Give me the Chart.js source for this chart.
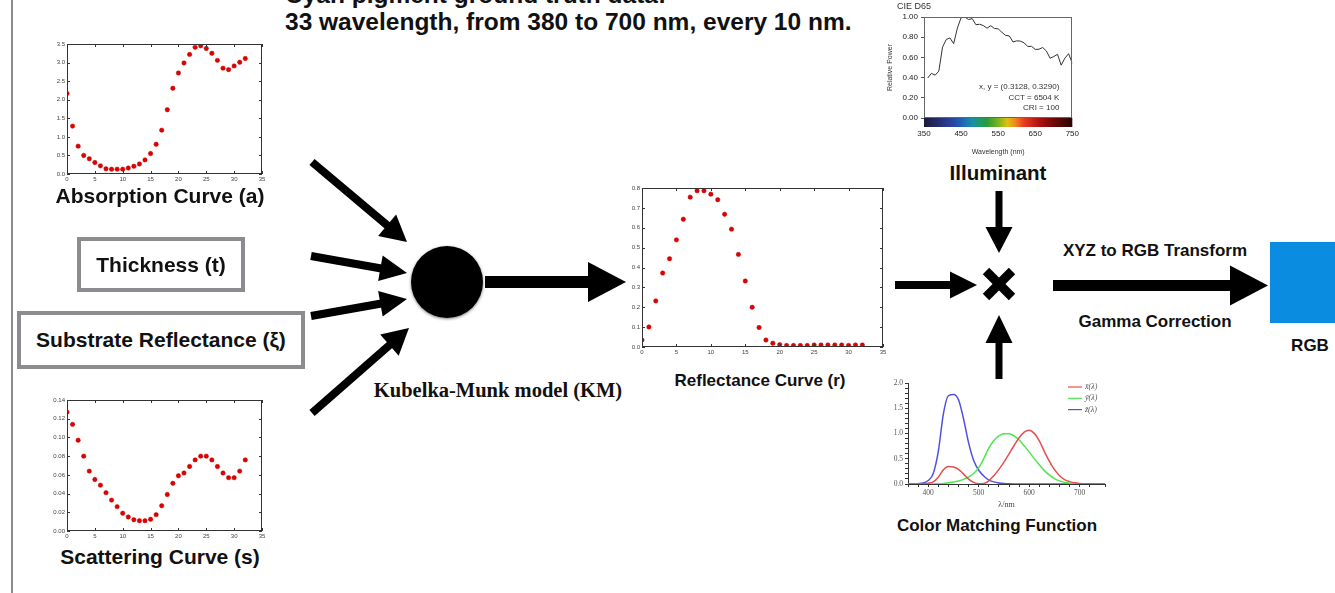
<!DOCTYPE html>
<html>
<head>
<meta charset="utf-8">
<script src="https://cdn.jsdelivr.net/npm/chart.js@4.4.0/dist/chart.umd.min.js"></script>
<style>
    body { margin: 0; width: 1335px; height: 593px; overflow: hidden; background: #fff; position: relative; font-family: "Liberation Sans", Arial, sans-serif; color: #111; }
    .chart { position: absolute; }
    .t { position: absolute; white-space: nowrap; font-weight: bold; line-height: 1; transform: translate(-50%, -50%); }
    .tl { position: absolute; white-space: nowrap; font-weight: bold; line-height: 1; transform: translate(0, -50%); }
    .box { position: absolute; box-sizing: border-box; border: 4px solid #8a8c8f; display: flex; align-items: center; justify-content: center; font-weight: bold; font-size: 21px; }
    svg { position: absolute; left: 0; top: 0; }
</style>
</head>
<body>

<div style="position:absolute;left:11px;top:0;width:2px;height:593px;background:#8c8c8c"></div>

<div class="tl" style="left:285px;top:-5px;font-size:24.5px">Cyan pigment ground truth data:</div>
<div class="tl" style="left:285px;top:22px;font-size:24.5px">33 wavelength, from 380 to 700 nm, every 10 nm.</div>

<div class="chart" style="left:47px;top:38px;width:222px;height:146px"><canvas id="absorptionChart"></canvas></div>
<div class="t" style="left:160px;top:195px;font-size:21px">Absorption Curve (a)</div>

<div class="box" style="left:77px;top:237px;width:168px;height:55px">Thickness (t)</div>
<div class="box" style="left:17px;top:311px;width:288px;height:58px">Substrate Reflectance (ξ)</div>

<div class="chart" style="left:47px;top:394px;width:222px;height:147px"><canvas id="scatteringChart"></canvas></div>
<div class="t" style="left:160px;top:556px;font-size:21px">Scattering Curve (s)</div>

<div class="t" style="left:498px;top:390px;font-size:20.5px;font-family:'Liberation Serif','Times New Roman',serif">Kubelka-Munk model (KM)</div>

<div class="chart" style="left:620px;top:182px;width:270px;height:175px"><canvas id="reflectanceChart"></canvas></div>
<div class="t" style="left:760px;top:380px;font-size:17px">Reflectance Curve (r)</div>

<div class="chart" style="left:880px;top:0px;width:210px;height:156px"><canvas id="d65Chart"></canvas></div>
<div class="t" style="left:998px;top:173px;font-size:20.5px">Illuminant</div>

<div class="chart" style="left:880px;top:376px;width:232px;height:134px"><canvas id="cmfChart"></canvas></div>
<div class="t" style="left:997px;top:525px;font-size:17px">Color Matching Function</div>

<div class="t" style="left:1155px;top:250px;font-size:17px">XYZ to RGB Transform</div>
<div class="t" style="left:1155px;top:321px;font-size:17px">Gamma Correction</div>
<div style="position:absolute;left:1270px;top:242px;width:65px;height:81px;background:#0a8ce0"></div>
<div class="t" style="left:1310px;top:345px;font-size:17px">RGB</div>

<svg id="diagram" width="1335" height="593"></svg>

<script>
// Sample index (33 wavelengths, 380..700 nm)
const sampleIndex = [0, 1, 2, 3, 4, 5, 6, 7, 8, 9, 10, 11, 12, 13, 14, 15, 16, 17, 18, 19, 20, 21, 22, 23, 24, 25, 26, 27, 28, 29, 30, 31, 32];

const absorption = [2.17, 1.29, 0.75, 0.50, 0.41, 0.31, 0.22, 0.14, 0.13, 0.13, 0.13, 0.16, 0.21, 0.27, 0.38, 0.55, 0.80,
    1.18, 1.73, 2.31, 2.72, 2.99, 3.22, 3.41, 3.45, 3.38, 3.25, 3.06, 2.85, 2.81, 2.91, 3.01, 3.11];

const scattering = [0.127, 0.114, 0.097, 0.080, 0.064, 0.055, 0.049, 0.041, 0.033, 0.026, 0.019, 0.015, 0.012, 0.011, 0.011, 0.0125, 0.0175,
    0.027, 0.039, 0.051, 0.059, 0.062, 0.069, 0.076, 0.080, 0.080, 0.076, 0.069, 0.062, 0.057, 0.057, 0.064, 0.076];

const reflectance = [0.035, 0.101, 0.232, 0.372, 0.444, 0.539, 0.643, 0.754, 0.786, 0.786, 0.769, 0.741, 0.668, 0.593, 0.466, 0.332, 0.200,
    0.098, 0.035, 0.019, 0.012, 0.008, 0.008, 0.008, 0.008, 0.010, 0.010, 0.010, 0.010, 0.010, 0.008, 0.010, 0.010];

// CIE D65 relative power
const d65Wavelengths = [360, 370, 380, 390, 400, 410, 420, 430, 440, 450, 460, 470, 480, 490, 500, 510, 520, 530, 540, 550,
    560, 570, 580, 590, 600, 610, 620, 630, 640, 650, 660, 670, 680, 690, 700, 710, 720, 730, 740, 750];
const d65Power = [0.396, 0.442, 0.424, 0.464, 0.702, 0.777, 0.793, 0.736, 0.890, 0.993, 1.000, 0.975, 0.984, 0.924, 0.928, 0.915, 0.889, 0.914, 0.886, 0.883,
    0.849, 0.818, 0.813, 0.753, 0.764, 0.761, 0.744, 0.707, 0.710, 0.679, 0.681, 0.698, 0.664, 0.592, 0.608, 0.631, 0.523, 0.593, 0.637, 0.540];
const d65Notes = ["x, y = (0.3128, 0.3290)", "CCT = 6504 K", "CRI = 100"];

// Spectrum band under the D65 plot
const bandWavelengths = [350, 380, 420, 450, 480, 500, 520, 550, 575, 595, 620, 660, 700, 750];
const bandColors = ["#1b1b3a", "#232862", "#2a3d9a", "#1f5fb8", "#1a8fa8", "#1e9a6a", "#2a9a3a", "#7ab520", "#e0c010", "#f08a20", "#e83a20", "#b01010", "#700808", "#2a0505"];

// CIE 1931 colour matching functions
const cmfWavelengths = [360, 370, 380, 390, 400, 410, 420, 430, 440, 450, 460, 470, 480, 490, 500, 510, 520, 530, 540, 550,
    560, 570, 580, 590, 600, 610, 620, 630, 640, 650, 660, 670, 680, 690, 700, 710, 720, 730, 740, 750];
const cmfX = [0.0001, 0.0004, 0.0014, 0.0042, 0.0143, 0.0435, 0.1344, 0.2839, 0.3483, 0.3362, 0.2908, 0.1954, 0.0956, 0.0320, 0.0049, 0.0093, 0.0633, 0.1655, 0.2904, 0.4334,
    0.5945, 0.7621, 0.9163, 1.0263, 1.0622, 1.0026, 0.8544, 0.6424, 0.4479, 0.2835, 0.1649, 0.0874, 0.0468, 0.0227, 0.0114, 0.0058, 0.0029, 0.0014, 0.0007, 0.0003];
const cmfY = [0.0000, 0.0000, 0.0000, 0.0001, 0.0004, 0.0012, 0.0040, 0.0116, 0.0230, 0.0380, 0.0600, 0.0910, 0.1390, 0.2080, 0.3230, 0.5030, 0.7100, 0.8620, 0.9540, 0.9950,
    0.9950, 0.9520, 0.8700, 0.7570, 0.6310, 0.5030, 0.3810, 0.2650, 0.1750, 0.1070, 0.0610, 0.0320, 0.0170, 0.0082, 0.0041, 0.0021, 0.0010, 0.0005, 0.0002, 0.0001];
const cmfZ = [0.0006, 0.0019, 0.0065, 0.0201, 0.0679, 0.2074, 0.6456, 1.3856, 1.7471, 1.7721, 1.6692, 1.2876, 0.8130, 0.4652, 0.2720, 0.1582, 0.0783, 0.0422, 0.0203, 0.0088,
    0.0039, 0.0021, 0.0017, 0.0011, 0.0008, 0.0003, 0.0002, 0.0001, 0.0000, 0.0000, 0.0000, 0.0000, 0.0000, 0.0000, 0.0000, 0.0000, 0.0000, 0.0000, 0.0000, 0.0000];
const cmfLabels = ["x\u0304(\u03bb)", "y\u0304(\u03bb)", "z\u0304(\u03bb)"];

// Plot frame, optionally with matplotlib style inward ticks
const boxTicks = {
    id: 'boxTicks',
    afterDatasetsDraw(chart, args, opts) {
        const { ctx, chartArea: a, scales } = chart;
        ctx.save();
        ctx.strokeStyle = opts.color || '#333';
        ctx.lineWidth = 1;
        ctx.strokeRect(Math.round(a.left) + 0.5, Math.round(a.top) + 0.5, Math.round(a.width) - 1, Math.round(a.height) - 1);
        if (opts.inner) {
            ctx.beginPath();
            scales.x.ticks.forEach(t => {
                let px = Math.round(scales.x.getPixelForValue(t.value)) + 0.5;
                ctx.moveTo(px, a.bottom); ctx.lineTo(px, a.bottom - 3);
                ctx.moveTo(px, a.top); ctx.lineTo(px, a.top + 3);
            });
            scales.y.ticks.forEach(t => {
                let py = Math.round(scales.y.getPixelForValue(t.value)) + 0.5;
                ctx.moveTo(a.left, py); ctx.lineTo(a.left + 3, py);
                ctx.moveTo(a.right, py); ctx.lineTo(a.right - 3, py);
            });
            ctx.stroke();
        }
        ctx.restore();
    }
};

function scatterChart(id, values, yMax, yStep, decimals, yAxisWidth) {
    new Chart(id, {
        type: 'scatter',
        data: {
            datasets: [{
                data: sampleIndex.map((x, i) => ({ x: x, y: values[i] })),
                backgroundColor: '#e00000',
                borderColor: '#c00000',
                borderWidth: 0.5,
                pointRadius: 2.2,
                clip: 0
            }]
        },
        options: {
            responsive: true,
            maintainAspectRatio: false,
            animation: false,
            layout: { padding: { top: 6, right: 7, left: 0, bottom: 0 } },
            scales: {
                x: {
                    type: 'linear', min: 0, max: 35,
                    ticks: { stepSize: 5, font: { size: 6 }, color: '#444', padding: 2, maxRotation: 0 },
                    grid: { display: false, drawTicks: false },
                    border: { display: false },
                    afterFit: s => { s.height = 10; }
                },
                y: {
                    min: 0, max: yMax,
                    ticks: { stepSize: yStep, font: { size: 6 }, color: '#444', padding: 2, callback: v => v.toFixed(decimals) },
                    grid: { display: false, drawTicks: false },
                    border: { display: false },
                    afterFit: s => { s.width = yAxisWidth; }
                }
            },
            plugins: {
                legend: { display: false },
                tooltip: { enabled: false },
                boxTicks: { inner: true }
            }
        },
        plugins: [boxTicks]
    });
}

scatterChart('absorptionChart', absorption, 3.5, 0.5, 1, 20);
scatterChart('scatteringChart', scattering, 0.14, 0.02, 2, 20);
scatterChart('reflectanceChart', reflectance, 0.8, 0.1, 1, 22);

// D65: spectrum band and notes
const spectrumBand = {
    id: 'spectrumBand',
    afterDraw(chart) {
        const { ctx, chartArea: a, scales } = chart;
        let g = ctx.createLinearGradient(a.left, 0, a.right, 0);
        bandWavelengths.forEach((w, i) => {
            g.addColorStop((scales.x.getPixelForValue(w) - a.left) / a.width, bandColors[i]);
        });
        ctx.save();
        ctx.fillStyle = g;
        ctx.fillRect(a.left, a.bottom, a.width, 9);
        ctx.fillStyle = '#333';
        ctx.font = '9px "Liberation Sans", Arial';
        ctx.textBaseline = 'middle';
        ctx.textAlign = 'left';
        ctx.fillText('CIE D65', a.left - 27, 7);
        ctx.font = '8px "Liberation Sans", Arial';
        ctx.textAlign = 'right';
        d65Notes.forEach((s, i) => ctx.fillText(s, a.right - 13, a.top + 70 + i * 10.5));
        ctx.restore();
    }
};

new Chart('d65Chart', {
    type: 'line',
    data: {
        datasets: [{
            data: d65Wavelengths.map((w, i) => ({ x: w, y: d65Power[i] })),
            borderColor: '#333',
            borderWidth: 1,
            pointRadius: 0,
            tension: 0
        }]
    },
    options: {
        responsive: true,
        maintainAspectRatio: false,
        animation: false,
        layout: { padding: { top: 17, right: 6, left: 6, bottom: 0 } },
        scales: {
            x: {
                type: 'linear', min: 350, max: 750,
                ticks: { stepSize: 100, font: { size: 8 }, color: '#222', padding: 11, maxRotation: 0 },
                grid: { display: false, drawTicks: false },
                border: { display: false },
                title: { display: true, text: 'Wavelength (nm)', font: { size: 7 }, color: '#333', padding: { top: 6, bottom: 0 } },
                afterFit: s => { s.height = 38; }
            },
            y: {
                min: 0, max: 1,
                ticks: { stepSize: 0.2, font: { size: 8 }, color: '#222', padding: 3, callback: v => v.toFixed(2) },
                grid: { drawOnChartArea: false, tickLength: 3, color: '#555' },
                border: { display: false },
                title: { display: true, text: 'Relative Power', font: { size: 7 }, color: '#333', padding: 0 },
                afterFit: s => { s.width = 38; }
            }
        },
        plugins: {
            legend: { display: false },
            tooltip: { enabled: false },
            boxTicks: { inner: false, color: '#666' }
        }
    },
    plugins: [boxTicks, spectrumBand]
});

// Colour matching functions with a small legend inside the plot
const cmfLegend = {
    id: 'cmfLegend',
    afterDraw(chart) {
        const { ctx, chartArea: a } = chart;
        ctx.save();
        ctx.font = 'italic 8px "Liberation Serif", serif';
        ctx.textBaseline = 'middle';
        ctx.textAlign = 'left';
        chart.data.datasets.forEach((ds, i) => {
            let y = a.top + 4 + i * 11.3;
            ctx.strokeStyle = ds.borderColor;
            ctx.lineWidth = 1.2;
            ctx.beginPath();
            ctx.moveTo(a.right - 37, y);
            ctx.lineTo(a.right - 23, y);
            ctx.stroke();
            ctx.fillStyle = '#555';
            ctx.fillText(ds.label, a.right - 20, y);
        });
        ctx.restore();
    }
};

new Chart('cmfChart', {
    type: 'line',
    data: {
        datasets: [
            { label: cmfLabels[0], data: cmfWavelengths.map((w, i) => ({ x: w, y: cmfX[i] })), borderColor: 'rgb(228, 80, 80)' },
            { label: cmfLabels[1], data: cmfWavelengths.map((w, i) => ({ x: w, y: cmfY[i] })), borderColor: 'rgb(80, 228, 80)' },
            { label: cmfLabels[2], data: cmfWavelengths.map((w, i) => ({ x: w, y: cmfZ[i] })), borderColor: 'rgb(80, 80, 228)' }
        ]
    },
    options: {
        responsive: true,
        maintainAspectRatio: false,
        animation: false,
        datasets: { line: { borderWidth: 1.5, pointRadius: 0, cubicInterpolationMode: 'monotone' } },
        layout: { padding: { top: 7, right: 7, left: 0, bottom: 0 } },
        scales: {
            x: {
                type: 'linear', min: 360, max: 750,
                ticks: {
                    stepSize: 20, autoSkip: false, maxRotation: 0,
                    font: { size: 7.5, family: '"Liberation Serif", serif' }, color: '#555', padding: 2,
                    callback: v => (v % 100 === 0 ? v : '')
                },
                grid: { drawOnChartArea: false, tickLength: 3, color: '#333' },
                border: { color: '#333' },
                title: { display: true, text: '\u03bb/nm', font: { size: 8, family: '"Liberation Serif", serif' }, color: '#444', padding: 0 },
                afterFit: s => { s.height = 26; }
            },
            y: {
                min: 0, max: 2,
                ticks: {
                    stepSize: 0.1, autoSkip: false,
                    font: { size: 7.5, family: '"Liberation Serif", serif' }, color: '#555', padding: 2,
                    callback: v => (Math.abs(v * 2 - Math.round(v * 2)) < 1e-6 ? v.toFixed(1) : '')
                },
                grid: { drawOnChartArea: false, tickLength: 3, color: '#333' },
                border: { color: '#333' },
                afterFit: s => { s.width = 28; }
            }
        },
        plugins: {
            legend: { display: false },
            tooltip: { enabled: false }
        }
    },
    plugins: [cmfLegend]
});

// Diagram: arrows, KM node and multiply sign
const svg = document.getElementById('diagram');
const NS = 'http://www.w3.org/2000/svg';

function el(name, attrs) {
    let e = document.createElementNS(NS, name);
    for (let k in attrs) e.setAttribute(k, attrs[k]);
    svg.appendChild(e);
    return e;
}

function arrow(x1, y1, x2, y2, w, hl, hw) {
    let dx = x2 - x1, dy = y2 - y1, len = Math.hypot(dx, dy);
    let ux = dx / len, uy = dy / len;
    let bx = x2 - ux * hl, by = y2 - uy * hl;
    el('line', { x1: x1, y1: y1, x2: bx + ux, y2: by + uy, stroke: '#000', 'stroke-width': w });
    el('polygon', {
        points: [x2, y2, bx - uy * hw / 2, by + ux * hw / 2, bx + uy * hw / 2, by - ux * hw / 2].join(' '),
        fill: '#000'
    });
}

arrow(312, 162, 407, 242, 8, 26, 28);
arrow(311, 256, 407, 273, 8, 27, 26);
arrow(311, 316, 407, 299, 8, 27, 26);
arrow(312, 413, 409, 328, 8, 26, 28);

el('circle', { cx: 447, cy: 282, r: 36, fill: '#000', style: 'filter: drop-shadow(0 1px 1.5px rgba(0,0,0,0.5))' });

arrow(485, 282, 626, 282, 12, 38, 40);
arrow(895, 285, 977, 285, 8, 27, 27);
arrow(999, 191, 999, 253, 7, 26, 27);
arrow(999, 379, 999, 315, 7, 28, 27);

el('line', { x1: 986, y1: 271, x2: 1012, y2: 297, stroke: '#000', 'stroke-width': 9 });
el('line', { x1: 1012, y1: 271, x2: 986, y2: 297, stroke: '#000', 'stroke-width': 9 });

arrow(1053, 285.5, 1268, 285.5, 11, 38, 40);
</script>
</body>
</html>
